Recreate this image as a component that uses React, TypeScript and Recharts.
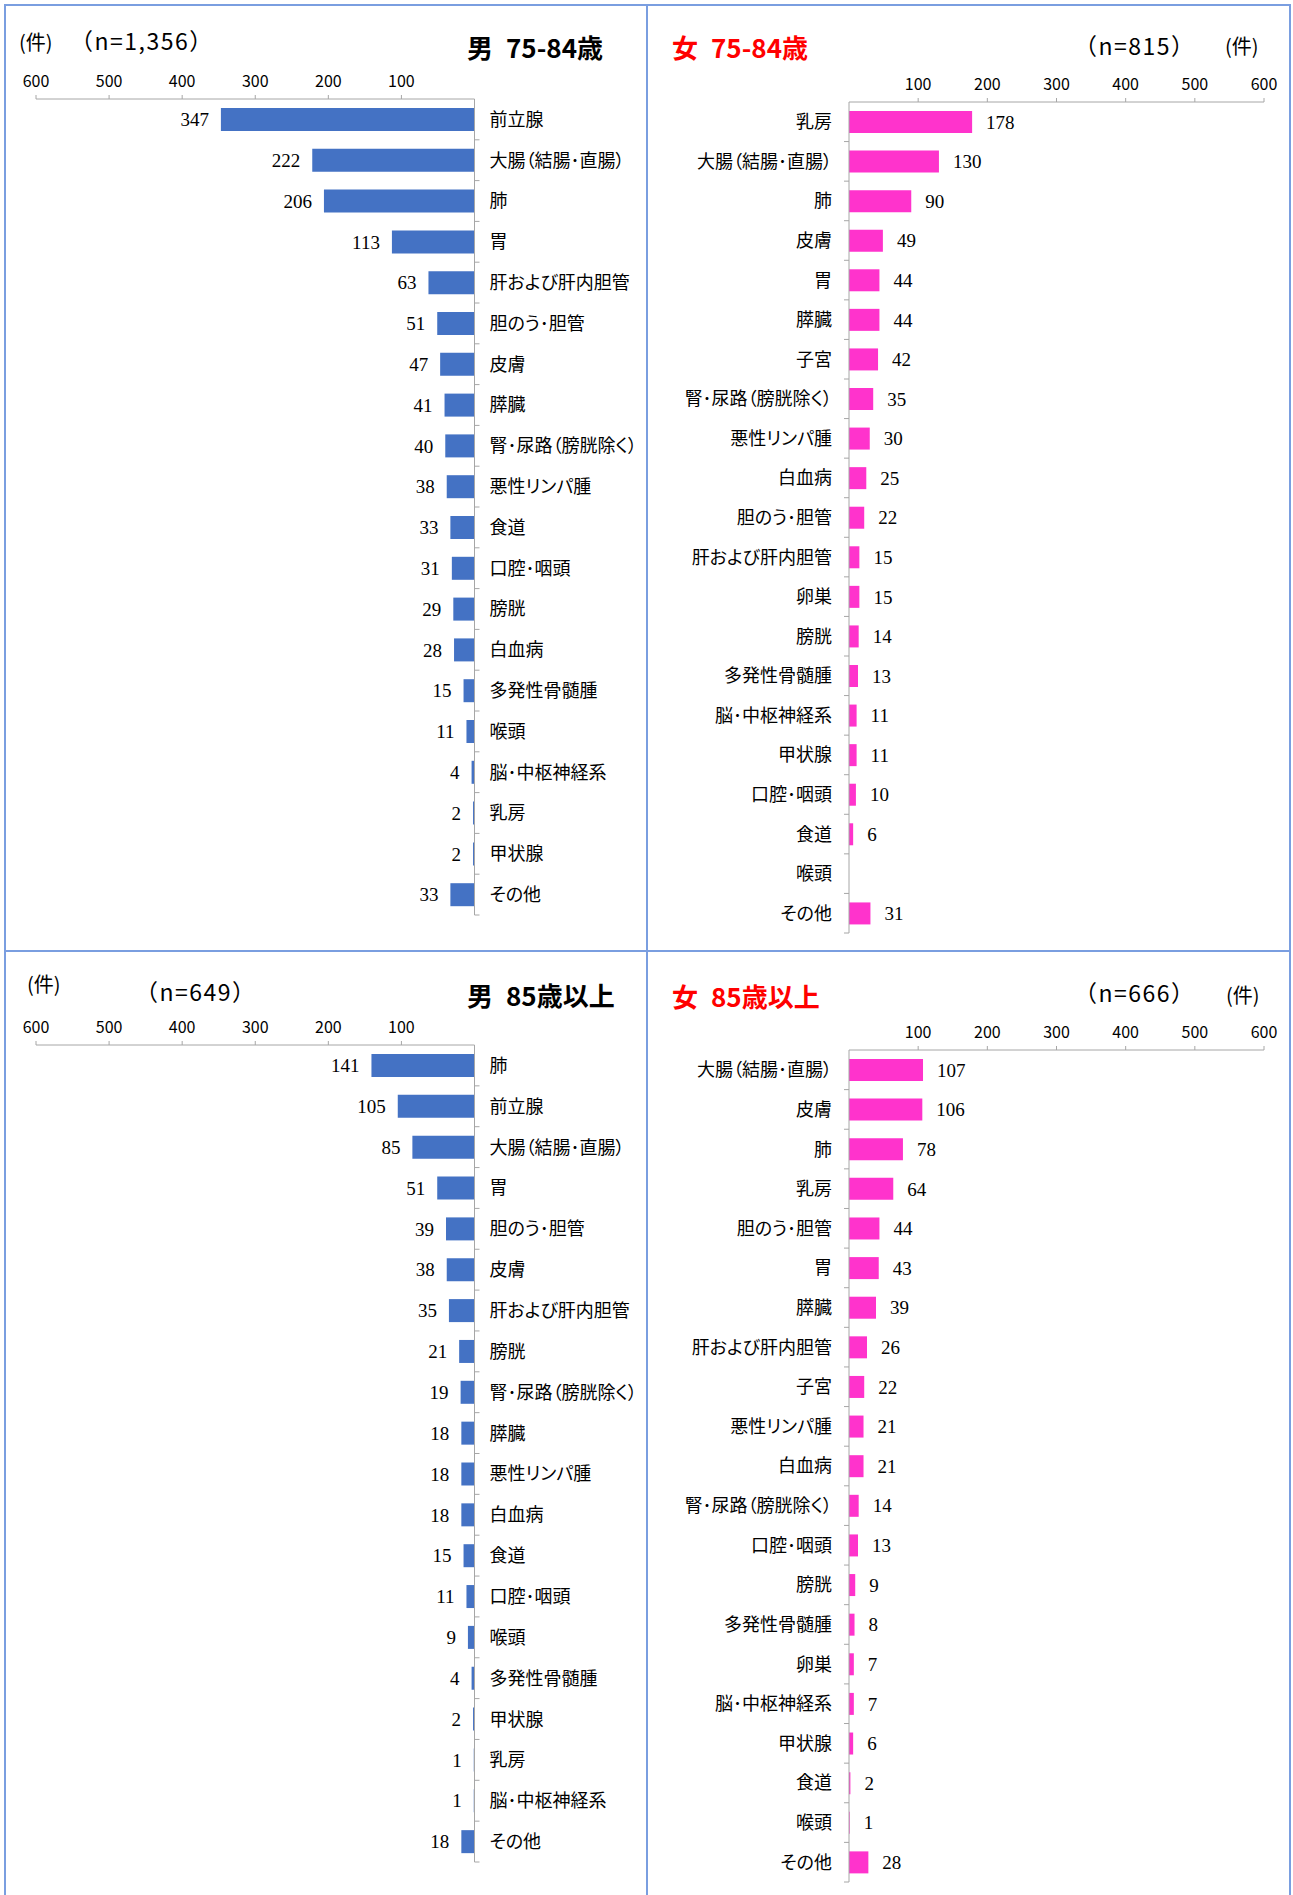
import { BarChart, Bar, XAxis, YAxis, LabelList } from "recharts";

const FONT_JP = '"Noto Sans CJK JP", "Noto Sans", sans-serif';
const FONT_NUM = '"Liberation Serif", "DejaVu Serif", serif';
const AXIS_GRAY = "#A6A6A6";
const BLUE = "#4472C4";
const PINK = "#FF33CC";
const FRAME = "#7A9EE0";

const xTicks = [100, 200, 300, 400, 500, 600];

// 男 75-84歳
const male7584Names = [
  "前立腺", "大腸（結腸･直腸）", "肺", "胃", "肝および肝内胆管", "胆のう･胆管", "皮膚", "膵臓",
  "腎･尿路（膀胱除く）", "悪性リンパ腫", "食道", "口腔･咽頭", "膀胱", "白血病", "多発性骨髄腫",
  "喉頭", "脳･中枢神経系", "乳房", "甲状腺", "その他",
];
const male7584Values = [347, 222, 206, 113, 63, 51, 47, 41, 40, 38, 33, 31, 29, 28, 15, 11, 4, 2, 2, 33];

// 女 75-84歳
const female7584Names = [
  "乳房", "大腸（結腸･直腸）", "肺", "皮膚", "胃", "膵臓", "子宮", "腎･尿路（膀胱除く）", "悪性リンパ腫",
  "白血病", "胆のう･胆管", "肝および肝内胆管", "卵巣", "膀胱", "多発性骨髄腫", "脳･中枢神経系",
  "甲状腺", "口腔･咽頭", "食道", "喉頭", "その他",
];
const female7584Values = [178, 130, 90, 49, 44, 44, 42, 35, 30, 25, 22, 15, 15, 14, 13, 11, 11, 10, 6, 0, 31];

// 男 85歳以上
const male85Names = [
  "肺", "前立腺", "大腸（結腸･直腸）", "胃", "胆のう･胆管", "皮膚", "肝および肝内胆管", "膀胱",
  "腎･尿路（膀胱除く）", "膵臓", "悪性リンパ腫", "白血病", "食道", "口腔･咽頭", "喉頭",
  "多発性骨髄腫", "甲状腺", "乳房", "脳･中枢神経系", "その他",
];
const male85Values = [141, 105, 85, 51, 39, 38, 35, 21, 19, 18, 18, 18, 15, 11, 9, 4, 2, 1, 1, 18];

// 女 85歳以上
const female85Names = [
  "大腸（結腸･直腸）", "皮膚", "肺", "乳房", "胆のう･胆管", "胃", "膵臓", "肝および肝内胆管", "子宮",
  "悪性リンパ腫", "白血病", "腎･尿路（膀胱除く）", "口腔･咽頭", "膀胱", "多発性骨髄腫", "卵巣",
  "脳･中枢神経系", "甲状腺", "食道", "喉頭", "その他",
];
const female85Values = [107, 106, 78, 64, 44, 43, 39, 26, 22, 21, 21, 14, 13, 9, 8, 7, 7, 6, 2, 1, 28];

type Box = { x: number; y: number; w: number; h: number };
type Plot = { x0: number; x1: number; y0: number; y1: number };

interface SiteChartProps {
  names: string[];
  values: number[];
  color: string;
  side: "left" | "right"; // which way the bars grow
  box: Box;
  plot: Plot;
  barSize: number;
}

const SiteChart = ({ names, values, color, side, box, plot, barSize }: SiteChartProps) => {
  const data = names.map((name, i) => ({ name, value: values[i] }));
  const band = (plot.y1 - plot.y0) / names.length;
  const xAxisH = 30;
  const yAxisW = side === "left" ? 160 : 190;
  const margin =
    side === "left"
      ? {
          top: plot.y0 - box.y - xAxisH,
          bottom: box.y + box.h - plot.y1,
          left: plot.x0 - box.x,
          right: box.x + box.w - plot.x1 - yAxisW,
        }
      : {
          top: plot.y0 - box.y - xAxisH,
          bottom: box.y + box.h - plot.y1,
          left: plot.x0 - box.x - yAxisW,
          right: box.x + box.w - plot.x1,
        };
  const axisX = (side === "left" ? plot.x1 : plot.x0) - box.x;
  const axisY = plot.y0 - box.y;

  const renderXTick = ({ x, payload }: any) => (
    <text
      x={x}
      y={axisY - 12}
      textAnchor="middle"
      fontSize={16}
      fontFamily={FONT_JP}
      fill="#000"
    >
      {payload.value}
    </text>
  );

  // category label plus the small boundary tick Excel draws between categories
  const renderYTick = ({ y, payload }: any) => {
    const cy = Number(y);
    const dir = side === "left" ? 1 : -1;
    return (
      <g>
        <line
          x1={axisX}
          x2={axisX + dir * 5}
          y1={cy + band / 2}
          y2={cy + band / 2}
          stroke={AXIS_GRAY}
        />
        <text
          x={side === "left" ? axisX + 15 : axisX - 17}
          y={cy}
          dy="0.36em"
          textAnchor={side === "left" ? "start" : "end"}
          fontSize={18}
          fontFamily={FONT_JP}
          fill="#000"
          style={{ fontFeatureSettings: '"palt"' }}
        >
          {payload.value}
        </text>
      </g>
    );
  };

  const renderValue = (p: any) => {
    const v = Number(p.value);
    if (!v) return null;
    const x = Number(p.x);
    const w = Number(p.width);
    const cy = Number(p.y) + Number(p.height) / 2;
    const lo = Math.min(x, x + w);
    const hi = Math.max(x, x + w);
    return (
      <text
        x={side === "left" ? lo - 12 : hi + 14}
        y={cy}
        dy="0.35em"
        textAnchor={side === "left" ? "end" : "start"}
        fontSize={19}
        fontFamily={FONT_NUM}
        fill="#000"
      >
        {v}
      </text>
    );
  };

  return (
    <div style={{ position: "absolute", left: box.x, top: box.y }}>
      <BarChart width={box.w} height={box.h} data={data} layout="vertical" margin={margin}>
        <XAxis
          type="number"
          orientation="top"
          domain={[0, 600]}
          ticks={xTicks}
          interval={0}
          reversed={side === "left"}
          height={xAxisH}
          axisLine={{ stroke: AXIS_GRAY }}
          tickLine={{ stroke: AXIS_GRAY }}
          tickSize={4}
          tick={renderXTick}
        />
        <YAxis
          type="category"
          dataKey="name"
          orientation={side === "left" ? "right" : "left"}
          width={yAxisW}
          interval={0}
          axisLine={{ stroke: AXIS_GRAY }}
          tickLine={false}
          tickSize={0}
          tick={renderYTick}
        />
        <Bar dataKey="value" fill={color} barSize={barSize} isAnimationActive={false}>
          <LabelList dataKey="value" content={renderValue} />
        </Bar>
      </BarChart>
    </div>
  );
};

const Txt = ({ x, cy, size, bold, color, spacing, children }: any) => (
  <div
    style={{
      position: "absolute",
      left: x,
      top: cy - size / 2,
      fontSize: size,
      lineHeight: `${size}px`,
      fontWeight: bold ? 700 : 400,
      color: color || "#000",
      whiteSpace: "pre",
      letterSpacing: spacing || 0,
      fontFamily: FONT_JP,
    }}
  >
    {children}
  </div>
);

const Frame = ({ x, y, w, h }: Box) => (
  <div
    style={{
      position: "absolute",
      left: x,
      top: y,
      width: w,
      height: h,
      border: `2px solid ${FRAME}`,
      boxSizing: "border-box",
    }}
  />
);

export default function App() {
  return (
    <div
      style={{
        position: "relative",
        width: 1293,
        height: 1895,
        background: "#fff",
        overflow: "hidden",
        fontFamily: FONT_JP,
      }}
    >
      <style>{"body{margin:0}"}</style>

      <Frame x={4} y={4} w={644} h={948} />
      <Frame x={646} y={4} w={645} h={948} />
      <Frame x={4} y={950} w={644} h={960} />
      <Frame x={646} y={950} w={645} h={960} />

      {/* 男 75-84歳 */}
      <Txt x={19} cy={42} size={20}>(件)</Txt>
      <Txt x={70} cy={40} size={23} spacing={1.5}>（n=1,356）</Txt>
      <Txt x={467} cy={47} size={26} bold>{"男\u200275-84歳"}</Txt>
      <SiteChart
        names={male7584Names}
        values={male7584Values}
        color={BLUE}
        side="left"
        box={{ x: 6, y: 6, w: 640, h: 944 }}
        plot={{ x0: 36, x1: 474.5, y0: 99, y1: 915 }}
        barSize={23}
      />

      {/* 女 75-84歳 */}
      <Txt x={672} cy={47} size={26} bold color="#FF0000">{"女\u200275-84歳"}</Txt>
      <Txt x={1074} cy={45} size={23} spacing={1.5}>（n=815）</Txt>
      <Txt x={1225} cy={46} size={20}>(件)</Txt>
      <SiteChart
        names={female7584Names}
        values={female7584Values}
        color={PINK}
        side="right"
        box={{ x: 648, y: 6, w: 640, h: 944 }}
        plot={{ x0: 849, x1: 1264, y0: 102, y1: 933 }}
        barSize={22}
      />

      {/* 男 85歳以上 */}
      <Txt x={27} cy={984} size={20}>(件)</Txt>
      <Txt x={135} cy={991} size={23} spacing={1.5}>（n=649）</Txt>
      <Txt x={467} cy={995} size={26} bold>{"男\u200285歳以上"}</Txt>
      <SiteChart
        names={male85Names}
        values={male85Values}
        color={BLUE}
        side="left"
        box={{ x: 6, y: 952, w: 640, h: 943 }}
        plot={{ x0: 36, x1: 474.5, y0: 1045, y1: 1862 }}
        barSize={23}
      />

      {/* 女 85歳以上 */}
      <Txt x={672} cy={996} size={26} bold color="#FF0000">{"女\u200285歳以上"}</Txt>
      <Txt x={1074} cy={992} size={23} spacing={1.5}>（n=666）</Txt>
      <Txt x={1226} cy={995} size={20}>(件)</Txt>
      <SiteChart
        names={female85Names}
        values={female85Values}
        color={PINK}
        side="right"
        box={{ x: 648, y: 952, w: 640, h: 943 }}
        plot={{ x0: 849, x1: 1264, y0: 1050, y1: 1882 }}
        barSize={22}
      />
    </div>
  );
}
